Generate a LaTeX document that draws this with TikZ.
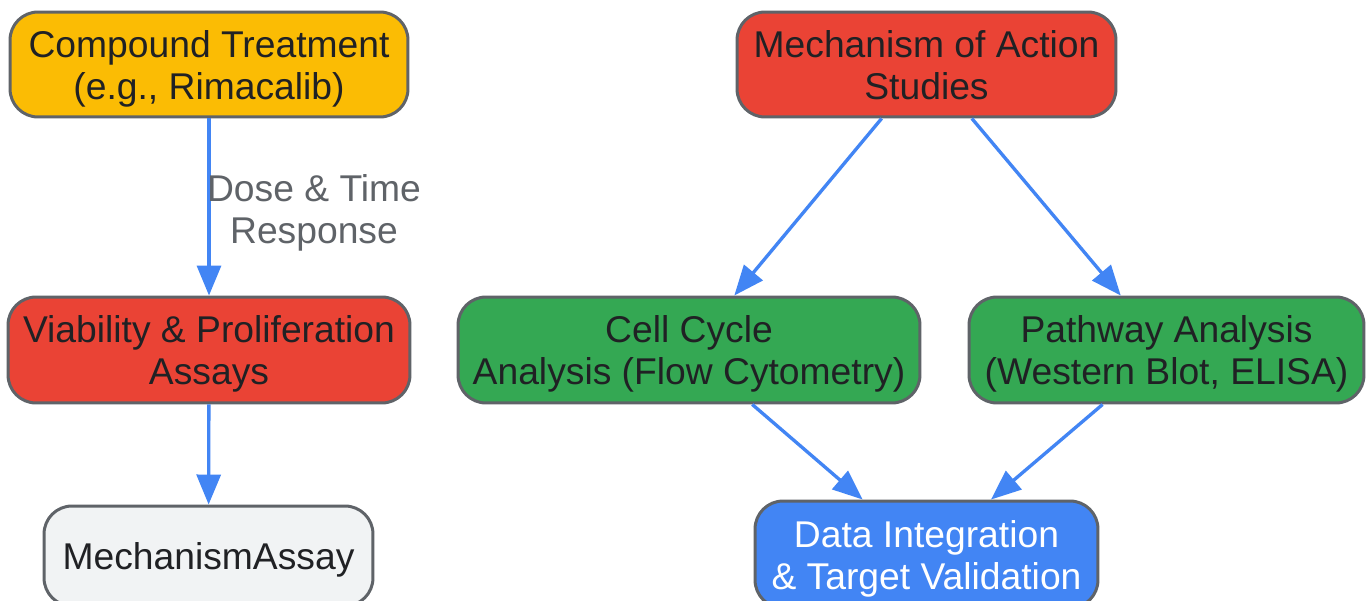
\documentclass[tikz,border=0pt]{standalone}
\usepackage{fontspec}
\setmainfont{Liberation Sans}
\usetikzlibrary{arrows.meta}
\definecolor{cYellow}{HTML}{FBBC04}
\definecolor{cRed}{HTML}{EA4335}
\definecolor{cGreen}{HTML}{34A853}
\definecolor{cBlue}{HTML}{4285F4}
\definecolor{cGrey}{HTML}{F1F3F4}
\definecolor{cBorder}{HTML}{5F6368}
\definecolor{cText}{HTML}{202124}
\newcommand{\padtop}{\rule{0pt}{20pt}}
\newcommand{\padbot}{\rule[-4.4pt]{0pt}{4.4pt}}
\tikzset{
	box/.style={draw=cBorder, line width=1.7pt, rounded corners=0.56cm, align=center, text=cText,
		font=\fontsize{21.2}{24}\selectfont, inner sep=0pt},
	flow/.style={draw=cBlue, line width=1.9pt, -{Triangle[length=0.6cm, width=0.48cm]}},
}

\begin{document}
\begin{tikzpicture}[x=0.02cm, y=-0.02cm]
		%%%%% START %%%%%
		\useasboundingbox[fill=white] (0, 0) rectangle (1369, 601);
		
		\node[box, fill=cYellow, minimum width=7.96cm, minimum height=2.1cm] (compound) at (209, 64.5) {\padtop Compound Treatment\\(e.g., Rimacalib)\padbot};
		\node[box, fill=cRed, minimum width=8.04cm, minimum height=2.12cm] (viability) at (209, 350) {\padtop Viability \& Proliferation\\Assays\padbot};
		\node[box, fill=cGrey, minimum width=6.58cm, minimum height=2.0cm] (assay) at (208.5, 556) {\padtop MechanismAssay\padbot};
		
		\node[box, fill=cRed, minimum width=7.58cm, minimum height=2.1cm] (moa) at (926.5, 64.5) {\padtop Mechanism of Action\\Studies\padbot};
		\node[box, fill=cGreen, minimum width=9.24cm, minimum height=2.12cm] (cellcycle) at (689, 350) {\padtop Cell Cycle\\Analysis (Flow Cytometry)\padbot};
		\node[box, fill=cGreen, minimum width=7.9cm, minimum height=2.12cm] (pathway) at (1166.5, 350) {\padtop Pathway Analysis\\(Western Blot, ELISA)\padbot};
		\node[box, fill=cBlue, text=white, minimum width=6.86cm, minimum height=2.14cm] (data) at (926.5, 554.5) {\padtop Data Integration\\\& Target Validation\padbot};
		
		\draw[flow] (compound) -- (viability);
		\node[align=center, text=cBorder, font=\fontsize{21.2}{24}\selectfont] (doselabel) at (314, 213) {Dose \& Time\\Response};
		\draw[flow] (viability) -- (assay);
		
		\draw[flow] (moa) -- (cellcycle);
		\draw[flow] (moa) -- (pathway);
		\draw[flow] (cellcycle) -- (data);
		\draw[flow] (pathway) -- (data);
		%%%%% END %%%%%
	\end{tikzpicture}
\end{document}
